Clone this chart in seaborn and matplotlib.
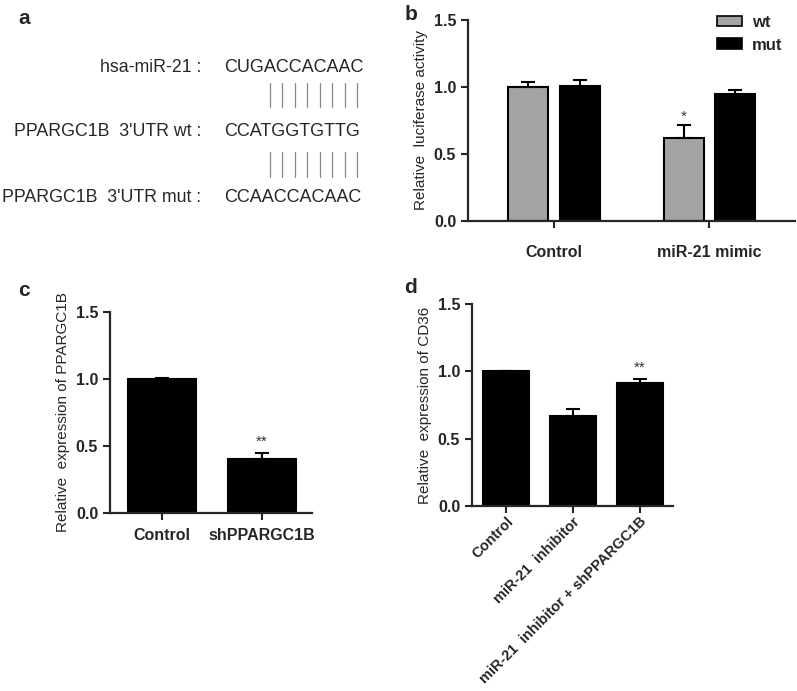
import pandas as pd
import numpy as np
import matplotlib
matplotlib.use("Agg")
import matplotlib.pyplot as plt
from matplotlib.patches import Patch
import seaborn as sns

# panel b - luciferase assay
b_conditions = ["Control", "Control", "miR-21 mimic", "miR-21 mimic"]
b_groups = ["wt", "mut", "wt", "mut"]
b_values = [1.00, 1.01, 0.62, 0.95]
b_errors = [0.035, 0.045, 0.095, 0.03]

# panel c - PPARGC1B expression
c_labels = ["Control", "shPPARGC1B"]
c_values = [1.00, 0.40]
c_errors = [0.004, 0.045]

# panel d - CD36 expression
d_labels = ["Control", "miR-21  inhibitor", "miR-21  inhibitor + shPPARGC1B"]
d_values = [1.00, 0.665, 0.91]
d_errors = [0.004, 0.055, 0.03]

# panel a - sequences
seq_names = ["hsa-miR-21 :", "PPARGC1B  3'UTR wt :", "PPARGC1B  3'UTR mut :"]
seq_strings = ["CUGACCACAAC", "CCATGGTGTTG", "CCAACCACAAC"]

GRAY = "#a3a3a3"

sns.set_style("ticks")
plt.rcParams["font.family"] = ["Liberation Sans", "DejaVu Sans"]

W, H = 797, 691
fig = plt.figure(figsize=(W / 100, H / 100), dpi=100)


def px_axes(x0, y0, x1, y1):
    # pixel box (top-left origin) -> figure fraction
    return fig.add_axes([x0 / W, 1 - y1 / H, (x1 - x0) / W, (y1 - y0) / H])


def style_axes(ax, ylabel):
    ax.set_ylim(0, 1.5)
    ax.set_yticks([0, 0.5, 1.0, 1.5])
    ax.set_yticklabels(["0.0", "0.5", "1.0", "1.5"])
    sns.despine(ax=ax)
    for s in ["left", "bottom"]:
        ax.spines[s].set_linewidth(1.6)
    ax.tick_params(axis="both", width=1.5, length=5, labelsize=11.5)
    for lab in ax.get_yticklabels() + ax.get_xticklabels():
        lab.set_fontweight("bold")
    ax.set_xlabel("")
    ax.set_ylabel(ylabel, fontsize=11)


def add_errors(ax, errs):
    bars = [p for p in ax.patches]
    for p, e in zip(bars, errs):
        xc = p.get_x() + p.get_width() / 2
        top = p.get_height()
        ax.errorbar(xc, top, yerr=[[0], [e]], fmt="none", ecolor="black",
                    elinewidth=1.5, capsize=5, capthick=1.5)


# ---- panel a
fig.text(18 / W, 1 - 18 / H, "a", fontsize=15, fontweight="bold", va="center")
rows_y = [67, 132, 197]
for name, seq, yy in zip(seq_names, seq_strings, rows_y):
    fig.text(201 / W, 1 - yy / H, name, fontsize=12.8, ha="right", va="center")
    fig.text(224 / W, 1 - yy / H, seq, fontsize=13, ha="left", va="center")
for y0, y1 in [(83, 107), (152, 177)]:
    for xx in np.linspace(270, 357, 8):
        fig.add_artist(plt.Line2D([xx / W, xx / W], [1 - y0 / H, 1 - y1 / H],
                                  color="#888888", lw=0.9))

# ---- panel b
df_b = pd.DataFrame({"cond": b_conditions, "grp": b_groups, "val": b_values})
ax_b = px_axes(468, 20, 795, 221)
sns.barplot(data=df_b, x="cond", y="val", hue="grp", hue_order=["wt", "mut"],
            palette={"wt": GRAY, "mut": "black"}, width=0.66, gap=0.22,
            edgecolor="black", linewidth=1.5, errorbar=None, legend=False, ax=ax_b)
# patches come ordered by hue then category
order_err = [b_errors[0], b_errors[2], b_errors[1], b_errors[3]]
add_errors(ax_b, order_err)
ax_b.set_xlim(-0.553, 1.55)
style_axes(ax_b, "Relative  luciferase activity")
ax_b.tick_params(axis="x", pad=12)
ax_b.text(1 - 0.165, 0.78, "*", ha="center", va="center", fontsize=11, color="#333333")
fig.text(405 / W, 1 - 15 / H, "b", fontsize=15, fontweight="bold", va="center")
handles = [Patch(facecolor=GRAY, edgecolor="black", lw=1.2, label="wt"),
           Patch(facecolor="black", edgecolor="black", lw=1.2, label="mut")]
leg = fig.legend(handles=handles, loc="upper left", bbox_to_anchor=(702 / W, 1 - 0 / H),
                 frameon=False, prop={"weight": "bold", "size": 12},
                 handlelength=1.5, handleheight=0.6, handletextpad=0.6, labelspacing=0.45)

# ---- panel c
df_c = pd.DataFrame({"cond": c_labels, "val": c_values})
ax_c = px_axes(110, 312, 312, 513)
sns.barplot(data=df_c, x="cond", y="val", color="black", width=0.68,
            edgecolor="black", linewidth=1.5, errorbar=None, ax=ax_c)
add_errors(ax_c, c_errors)
ax_c.set_xlim(-0.52, 1.5)
style_axes(ax_c, "Relative  expression of PPARGC1B")
ax_c.tick_params(axis="x", pad=6)
ax_c.text(1, 0.53, "**", ha="center", va="center", fontsize=11, color="#333333")
fig.text(18 / W, 1 - 290 / H, "c", fontsize=15, fontweight="bold", va="center")

# ---- panel d
df_d = pd.DataFrame({"cond": d_labels, "val": d_values})
ax_d = px_axes(472, 304, 673, 506)
sns.barplot(data=df_d, x="cond", y="val", color="black", width=0.69,
            edgecolor="black", linewidth=1.5, errorbar=None, ax=ax_d)
add_errors(ax_d, d_errors)
ax_d.set_xlim(-0.51, 2.5)
style_axes(ax_d, "Relative  expression of CD36")
for lab in ax_d.get_xticklabels():
    lab.set_rotation(45)
    lab.set_ha("right")
    lab.set_rotation_mode("anchor")
    lab.set_fontsize(10.5)
ax_d.tick_params(axis="x", pad=1)
ax_d.text(2, 1.03, "**", ha="center", va="center", fontsize=11, color="#333333")
fig.text(404 / W, 1 - 287 / H, "d", fontsize=15, fontweight="bold", va="center")

fig.savefig("out.png", dpi=100)
